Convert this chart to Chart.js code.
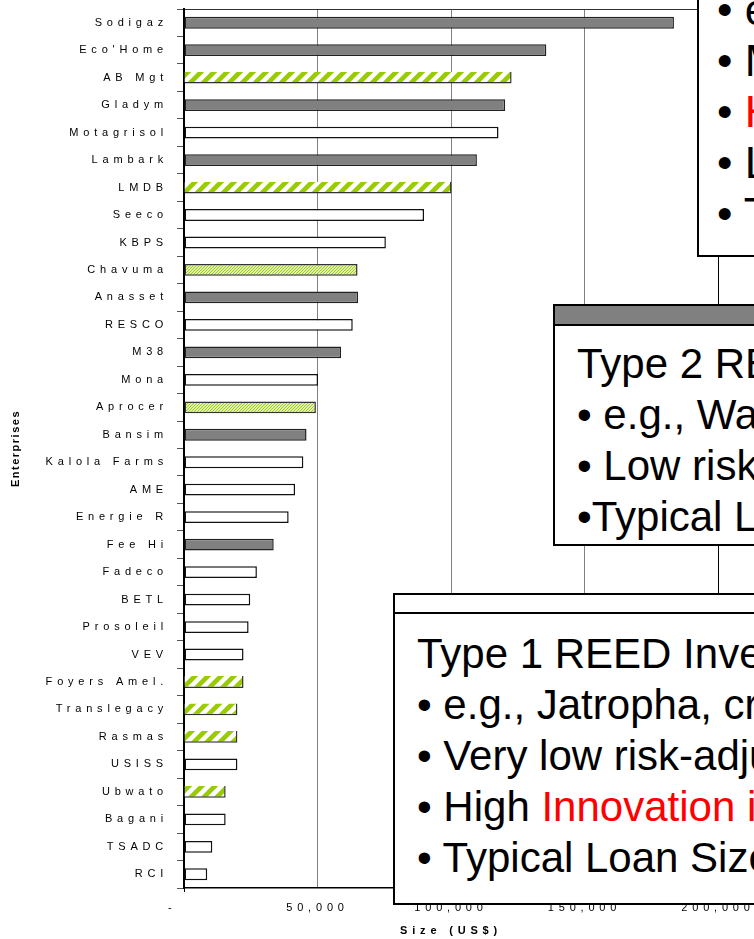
<!DOCTYPE html>
<html>
<head>
<meta charset="utf-8">
<script src="https://cdn.jsdelivr.net/npm/chart.js@4.4.1/dist/chart.umd.min.js"></script>
<style>
  body { margin: 0; background: #fff; }
  #wrap { position: relative; width: 754px; height: 939px; overflow: hidden; }
  #chart { position: absolute; left: 0; top: 0; }
  .box {
    position: absolute; box-sizing: border-box; border: 2px solid #000; background: #fff;
    font-family: "Liberation Sans", Arial, sans-serif; font-size: 42px; line-height: 51px;
    white-space: nowrap; padding-left: 22px; width: 560px; color: #000;
  }
  .box .hd { height: 17px; border-bottom: 2px solid #000; margin-left: -22px; margin-bottom: 14px; }
  .red { color: #ff0000; }
</style>
</head>
<body>
<div id="wrap">
  <canvas id="chart" width="754" height="939"></canvas>

  <div class="box" style="left:697px; top:-60px; height:317px; font-size:44px; padding-left:18px; padding-top:42px;">
    <div>• e.g., Mini-grids</div>
    <div>• Medium risk-adjusted returns</div>
    <div>• <span class="red">High Innovation impact</span></div>
    <div>• Large capital needs</div>
    <div>• Typical Loan Size</div>
  </div>

  <div class="box" style="left:553px; top:304px; height:242px;">
    <div class="hd" style="height:18px; margin-bottom:12px; background:#808080;"></div>
    <div>Type 2 REED Investments</div>
    <div>• e.g., Water pumps</div>
    <div>• Low risk-adjusted returns</div>
    <div>•Typical Loan Size</div>
  </div>

  <div class="box" style="left:393px; top:593px; height:312px;">
    <div class="hd"></div>
    <div>Type 1 REED Investments</div>
    <div>• e.g., Jatropha, crops</div>
    <div>• Very low risk-adjusted returns</div>
    <div>• High <span class="red">Innovation impact</span></div>
    <div>• Typical Loan Size</div>
  </div>
</div>

<script>
const enterprises = ["Sodigaz", "Eco'Home", "AB Mgt", "Gladym", "Motagrisol", "Lambark", "LMDB",
  "Seeco", "KBPS", "Chavuma", "Anasset", "RESCO", "M38", "Mona", "Aprocer", "Bansim",
  "Kalola Farms", "AME", "Energie R", "Fee Hi", "Fadeco", "BETL", "Prosoleil", "VEV",
  "Foyers Amel.", "Translegacy", "Rasmas", "USISS", "Ubwato", "Bagani", "TSADC", "RCI"];

// loan size in US$
const sizes = [183500, 135700, 122700, 120300, 117800, 109700, 100200,
  89900, 75600, 65000, 65200, 63200, 58800, 50200, 49400, 45900,
  44700, 41600, 39200, 33600, 27300, 24800, 24200, 22300,
  22300, 20000, 20000, 20000, 15600, 15600, 10600, 8700];

// bar fill: grey, plain, stripe (wide hatch) or fine (fine hatch)
const fills = ["grey", "grey", "stripe", "grey", "plain", "grey", "stripe",
  "plain", "plain", "fine", "grey", "plain", "grey", "plain", "fine", "grey",
  "plain", "plain", "plain", "grey", "plain", "plain", "plain", "plain",
  "stripe", "stripe", "stripe", "plain", "stripe", "plain", "plain", "plain"];

const xTicks = [0, 50000, 100000, 150000, 200000];

function hatch(size, width) {
  const c = document.createElement('canvas');
  c.width = size; c.height = size;
  const g = c.getContext('2d');
  g.fillStyle = '#fff';
  g.fillRect(0, 0, size, size);
  g.strokeStyle = '#99cc00';
  g.lineWidth = width;
  g.beginPath();
  g.moveTo(-size, size); g.lineTo(size, -size);
  g.moveTo(0, size * 2); g.lineTo(size * 2, 0);
  g.moveTo(0, size); g.lineTo(size, 0);
  g.stroke();
  return g.createPattern(c, 'repeat');
}

const canvas = document.getElementById('chart');
const ctx = canvas.getContext('2d');
const stripe = hatch(13, 4.6);
const fine = hatch(3, 1.1);

const fillColor = { grey: '#808080', plain: '#ffffff', stripe: stripe, fine: fine };

const SPACING = '4.8px';

const spacedText = {
  id: 'spacedText',
  beforeLayout(chart) { chart.ctx.letterSpacing = SPACING; },
  beforeDraw(chart) { chart.ctx.letterSpacing = SPACING; },
  afterDraw(chart) {
    const c = chart.ctx;
    const area = chart.chartArea;
    c.save();
    c.letterSpacing = '1.5px';
    c.translate(16, (area.top + area.bottom) / 2);
    c.rotate(-Math.PI / 2);
    c.font = 'bold 11px "Liberation Sans", Arial, sans-serif';
    c.fillStyle = '#000';
    c.textAlign = 'center';
    c.textBaseline = 'middle';
    c.fillText('Enterprises', 0, 0);
    c.restore();
  }
};

new Chart(ctx, {
  type: 'bar',
  data: {
    labels: enterprises,
    datasets: [{
      data: sizes,
      backgroundColor: fills.map(f => fillColor[f]),
      borderColor: fills.map(f => f === 'grey' ? '#222' : (f === 'plain' ? '#111' : '#333')),
      borderWidth: fills.map(f => f === 'stripe' ? { top: 0, left: 0, right: 1.5, bottom: 1.5 } : 1.5),
      borderSkipped: false,
      barPercentage: 0.43,
      categoryPercentage: 1
    }]
  },
  options: {
    indexAxis: 'y',
    responsive: false,
    animation: false,
    events: [],
    layout: { padding: { top: 9, right: 36, left: 0, bottom: 0 } },
    plugins: {
      legend: { display: false },
      tooltip: { enabled: false }
    },
    scales: {
      x: {
        type: 'linear',
        min: 0,
        max: 200000,
        afterFit: scale => {
          scale.height = 51;
          scale.paddingLeft = 0;
          scale.paddingRight = 0;
        },
        afterBuildTicks: scale => { scale.ticks = xTicks.map(v => ({ value: v })); },
        ticks: {
          color: '#000',
          padding: 9,
          maxRotation: 0,
          font: { family: '"Liberation Sans", Arial, sans-serif', size: 11 },
          callback: v => v === 0 ? '-   ' : v.toLocaleString('en-US')
        },
        grid: {
          color: c => c.tick && c.tick.value === 200000 ? '#000' : (c.tick && c.tick.value === 0 ? 'rgba(0,0,0,0)' : '#808080'),
          tickColor: c => c.tick && c.tick.value === 0 ? '#000' : 'rgba(0,0,0,0)',
          tickLength: 4,
          lineWidth: 1
        },
        border: { display: true, color: '#000', width: 1.5 },
        title: {
          display: true,
          text: 'Size (US$)',
          color: '#000',
          padding: { top: 0, bottom: 1 },
          font: { family: '"Liberation Sans", Arial, sans-serif', size: 11, weight: 'bold' }
        }
      },
      y: {
        afterFit: scale => {
          scale.width = 184;
          scale.paddingTop = 0;
          scale.paddingBottom = 0;
        },
        ticks: {
          color: '#000',
          padding: 9,
          autoSkip: false,
          font: { family: '"Liberation Sans", Arial, sans-serif', size: 11 }
        },
        grid: {
          offset: true,
          drawOnChartArea: true,
          color: c => c.index === 0 ? '#333' : 'rgba(0,0,0,0)',
          tickColor: '#555',
          tickLength: 7
        },
        border: { display: true, color: '#000', width: 2 }
      }
    }
  },
  plugins: [spacedText]
});
</script>
</body>
</html>
